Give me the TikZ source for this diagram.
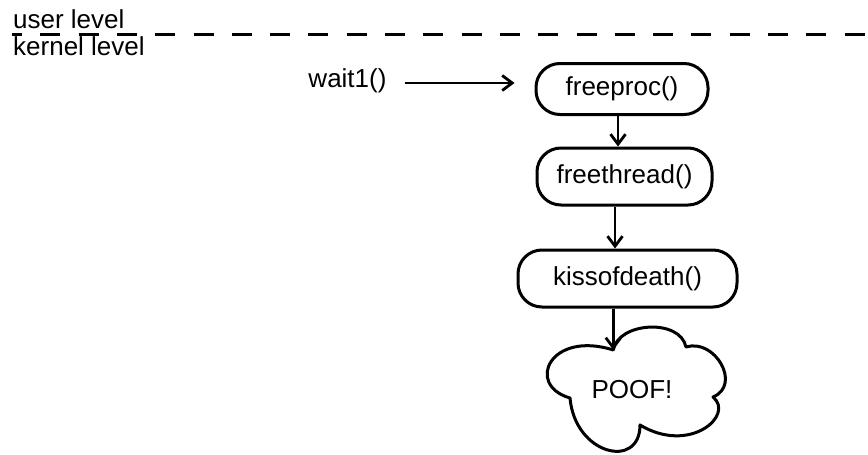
\documentclass[tikz,border=0pt]{standalone}
\usepackage{fontspec}
\setmainfont{Liberation Sans}
\usetikzlibrary{arrows.meta}

\tikzset{
  lbl/.style={inner sep=0pt, font=\fontsize{26}{30}\selectfont},
  fnbox/.style={draw, line width=3pt, rounded corners=24pt, inner sep=0pt,
                font=\fontsize{26}{30}\selectfont},
  arr/.style={line width=2.8pt, -{Straight Barb[length=10pt,width=15pt,line width=2.8pt]}},
  levelline/.style={line width=2.8pt, dash pattern=on 20pt off 18.3pt, dash phase=10pt},
  cloudline/.style={line width=3pt, line join=round}
}

\begin{document}
\begin{tikzpicture}[x=1pt, y=-1pt]
  \useasboundingbox (0,0) rectangle (868,455);

  % user / kernel boundary
  \node[lbl, anchor=base west] (user) at (13,28.5) {user level};
  \node[lbl, anchor=base west] (kernel) at (13,55) {kernel level};
  \coordinate (lineL) at (12,34.5);
  \coordinate (lineR) at (868,34.5);
  \draw[levelline] (lineL) -- (lineR);

  % call chain
  \node[lbl, anchor=base] (wait) at (347.5,87) {wait1()};
  \node[fnbox, minimum width=172pt, minimum height=51pt] (freeproc) at (622,89) {freeproc()};
  \node[fnbox, minimum width=175pt, minimum height=57pt] (freethread) at (624.5,176.5) {freethread()};
  \node[fnbox, minimum width=219pt, minimum height=57pt] (kiss) at (627.5,278.5) {kissofdeath()};

  % the cloud: five lobes joined at inward dips
  \node[lbl] (poof) at (632,390) {POOF!};
  \coordinate (cloudtop) at (613.3,350);
  \draw[cloudline] (cloudtop)
    .. controls (618,322) and (680,318) .. (686,347)
    .. controls (715,338) and (742,385) .. (713,397)
    .. controls (735,415) and (690,455) .. (640,425)
    .. controls (640,470) and (575,455) .. (570,398)
    .. controls (525,385) and (550,330) .. cycle;

  % connectors
  \coordinate (callrow) at (0,83);
  \draw[arr, shorten <=18pt, shorten >=20pt] (wait.east |- callrow) -- (freeproc.west |- callrow);
  \draw[arr] ([xshift=-4pt]freeproc.south) -- ([xshift=-4pt]freeproc.south |- freethread.north);
  \draw[arr] ([xshift=-9.5pt]freethread.south) -- ([xshift=-9.5pt]freethread.south |- kiss.north);
  \draw[arr] (kiss.south -| cloudtop) -- (cloudtop);
\end{tikzpicture}
\end{document}
